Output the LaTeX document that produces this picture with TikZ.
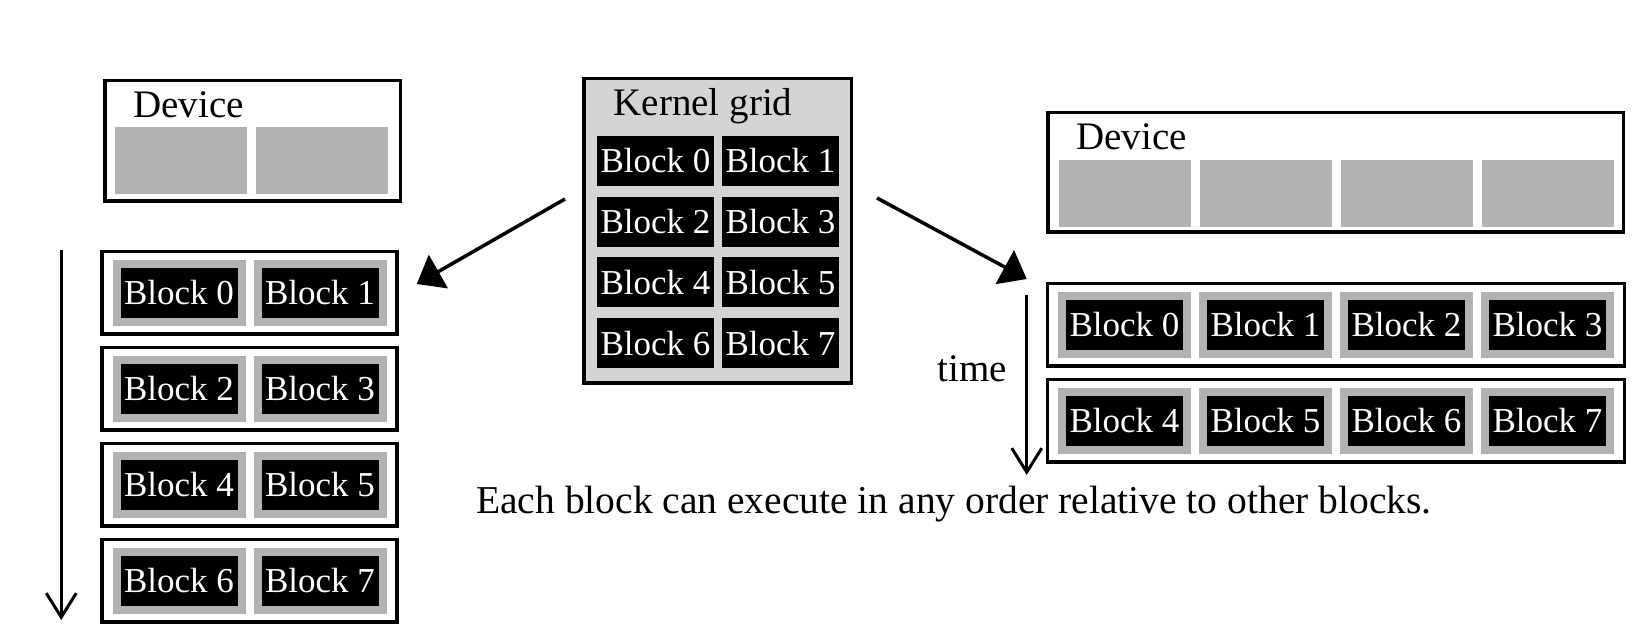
\documentclass[tikz,border=0pt]{standalone}
\usepackage{fontspec}
\setmainfont{Liberation Serif}
\usepackage{tikz}
\usetikzlibrary{arrows.meta}
\usetikzlibrary{fit}
\usetikzlibrary{positioning}
\definecolor{cellgray}{gray}{0.70}
\definecolor{gridgray}{gray}{0.83}
\tikzset{blockfont/.style={font=\fontsize{35}{35}\selectfont}}

\begin{document}
\begin{tikzpicture}[x=1pt, y=1pt,
      >={Triangle[length=25pt,width=38pt]},
      node distance=141pt,
      on grid,
      inner sep=0pt,
      box/.style={draw, line width=3.5pt},
      cell/.style={fill=cellgray, minimum width=132pt, minimum height=67pt},
      blk/.style={fill=black, draw=cellgray, line width=8pt, text=white,
        minimum width=125pt, minimum height=58pt, blockfont},
      kblk/.style={fill=black, text=white,
        minimum width=117pt, minimum height=50pt, blockfont},
      row/.style={box, inner xsep=10.5pt, inner ysep=8.25pt},
      lbl/.style={font=\fontsize{39}{39}\selectfont},
      karrow/.style={->, line width=3.5pt},
      tarrow/.style={-{Straight Barb[length=24pt,width=30pt]}, line width=3pt}]

    \useasboundingbox (0,0) rectangle (1636,640);

    \node[box, minimum width=295.5pt, minimum height=120.5pt]
      (ldev) at (252.5,499) {};
    \node[lbl, anchor=base west]
      (ldevtext) at ([xshift=30pt,yshift=-39pt]ldev.north west) {Device};
    \node[cell]
      (ldc0) at (181,479) {};
    \node[cell]
      (ldc1) [right=of ldc0] {};

    \node[box, fill=gridgray, minimum width=267.5pt, minimum height=304.5pt]
      (kgrid) at (717.5,409) {};
    \node[lbl, anchor=base]
      (ktext) at ([xshift=-14.5pt,yshift=-39pt]kgrid.north) {Kernel grid};
    \node[kblk]
      (K0) at (655.5,479) {Block 0};
    \node[kblk]
      (K1) [right=125pt of K0] {Block 1};
    \node[kblk]
      (K2) [below=60.7pt of K0] {Block 2};
    \node[kblk]
      (K3) [right=125pt of K2] {Block 3};
    \node[kblk]
      (K4) [below=60.7pt of K2] {Block 4};
    \node[kblk]
      (K5) [right=125pt of K4] {Block 5};
    \node[kblk]
      (K6) [below=60.7pt of K4] {Block 6};
    \node[kblk]
      (K7) [right=125pt of K6] {Block 7};

    \node[box, minimum width=575.5pt, minimum height=119.5pt]
      (rdev) at (1335.5,467.5) {};
    \node[lbl, anchor=base west]
      (rdevtext) at ([xshift=30pt,yshift=-39pt]rdev.north west) {Device};
    \node[cell]
      (rdc0) at (1124.5,446) {};
    \node[cell]
      (rdc1) [right=of rdc0] {};
    \node[cell]
      (rdc2) [right=of rdc1] {};
    \node[cell]
      (rdc3) [right=of rdc2] {};

    \node[blk]
      (L0) at (179,347) {Block 0};
    \node[blk]
      (L1) [right=of L0] {Block 1};
    \node[blk]
      (L2) [below=96pt of L0] {Block 2};
    \node[blk]
      (L3) [right=of L2] {Block 3};
    \node[blk]
      (L4) [below=96pt of L2] {Block 4};
    \node[blk]
      (L5) [right=of L4] {Block 5};
    \node[blk]
      (L6) [below=96pt of L4] {Block 6};
    \node[blk]
      (L7) [right=of L6] {Block 7};
    \node[row, fit=(L0)(L1)] (lrow0) {};
    \node[row, fit=(L2)(L3)] (lrow1) {};
    \node[row, fit=(L4)(L5)] (lrow2) {};
    \node[row, fit=(L6)(L7)] (lrow3) {};

    \node[blk]
      (R0) at (1124.5,315) {Block 0};
    \node[blk]
      (R1) [right=of R0] {Block 1};
    \node[blk]
      (R2) [right=of R1] {Block 2};
    \node[blk]
      (R3) [right=of R2] {Block 3};
    \node[blk]
      (R4) [below=96pt of R0] {Block 4};
    \node[blk]
      (R5) [right=of R4] {Block 5};
    \node[blk]
      (R6) [right=of R5] {Block 6};
    \node[blk]
      (R7) [right=of R6] {Block 7};
    \node[row, fit=(R0)(R3)] (rrow0) {};
    \node[row, fit=(R4)(R7)] (rrow1) {};

    \node[lbl, anchor=base east]
      (timetext) at (1007,258) {time};
    \node[font=\fontsize{39.5}{40}\selectfont, anchor=base west]
      (note) at (476,126) {Each block can execute in any order relative to other blocks.};

    \draw[karrow] ([xshift=-17pt,yshift=32pt]kgrid.west)
      -- ([xshift=18pt,yshift=9pt]lrow0.east);
    \draw[karrow] ([xshift=24pt,yshift=33pt]kgrid.east)
      -- ([xshift=-19pt,yshift=3pt]rrow0.north west);
    \draw[tarrow] ([xshift=-39pt]lrow0.north west)
      -- ([xshift=-39pt,yshift=4pt]lrow3.south west);
    \draw[tarrow] ([xshift=-19pt,yshift=-13pt]rrow0.north west)
      -- ([xshift=-19pt,yshift=-11pt]rrow1.south west);

  \end{tikzpicture}
\end{document}
